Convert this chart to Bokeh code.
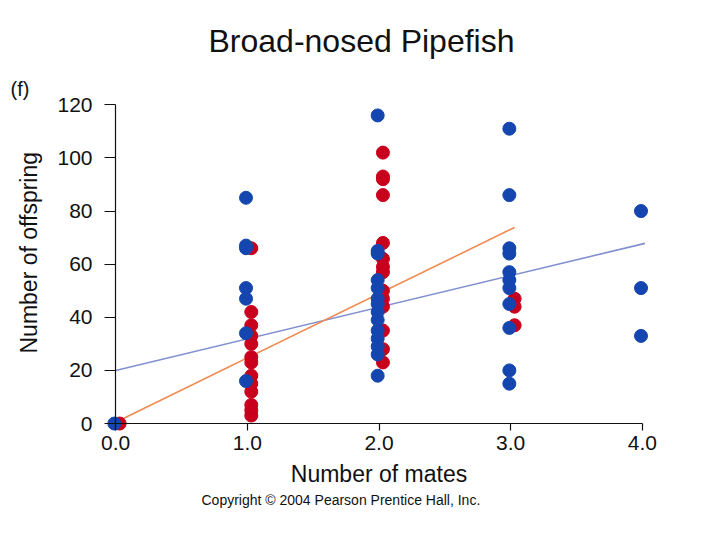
import numpy as np
from bokeh.plotting import figure
from bokeh.models import Range1d, NumeralTickFormatter, LinearAxis, Title
from bokeh.embed import file_html
from bokeh.resources import INLINE

# ---- data ----
blue_mates = [0,
              1, 1, 1, 1, 1, 1, 1,
              2, 2, 2, 2, 2, 2, 2, 2, 2, 2, 2, 2, 2, 2,
              3, 3, 3, 3, 3, 3, 3, 3, 3, 3, 3,
              4, 4, 4]
blue_offspring = [0,
                  85, 67, 66, 51, 47, 34, 16,
                  116, 65, 64, 54, 51, 47, 45, 42, 39, 35, 32, 29, 26, 18,
                  111, 86, 66, 64, 57, 54, 51, 45, 36, 20, 15,
                  80, 51, 33]
red_mates = [0,
             1, 1, 1, 1, 1, 1, 1, 1, 1, 1, 1, 1, 1,
             2, 2, 2, 2, 2, 2, 2, 2, 2, 2, 2, 2, 2, 2,
             3, 3, 3]
red_offspring = [0,
                 66, 42, 37, 33, 30, 25, 23, 18, 15, 12, 7, 5, 3,
                 102, 93, 92, 86, 68, 62, 59, 57, 50, 47, 44, 35, 28, 23,
                 47, 44, 37]
# fitted lines: intercept, slope, x-extent
blue_fit = (20.0, 11.9, 4.02)
red_fit = (0.5, 24.2, 3.03)

x_ticks = [0, 1, 2, 3, 4]
y_ticks = [0, 20, 40, 60, 80, 100, 120]

BLUE = "#1546B0"
RED = "#C8001E"
FONT = "Liberation Sans"
INK = "#111111"

p = figure(frame_width=553, frame_height=332,
           min_border_left=101, min_border_right=58,
           min_border_top=99, min_border_bottom=101,
           x_range=Range1d(-0.1, 4.1), y_range=Range1d(-3, 122),
           output_backend="svg", toolbar_location=None,
           x_axis_location=None, y_axis_location=None)
p.outline_line_color = None
p.xgrid.grid_line_color = None
p.ygrid.grid_line_color = None
p.background_fill_color = "white"
p.border_fill_color = "white"

# fit lines (drawn below points)
for (b0, b1, xe), col in [(blue_fit, "#8090D0"), (red_fit, "#F08A50")]:
    xs = np.array([0.0, xe])
    p.line(xs, b0 + b1 * xs, line_color=col, line_width=1.6)

p.scatter(np.array(red_mates) + 0.03, red_offspring, size=13,
          fill_color=RED, line_color=RED)
p.scatter(np.array(blue_mates) - 0.01, blue_offspring, size=13,
          fill_color=BLUE, line_color=BLUE)

# axis lines + ticks, placed at data zero (labels hidden)
xline = LinearAxis(ticker=x_ticks, fixed_location=0, bounds=(0, 4),
                   major_tick_out=7, major_tick_in=0)
yline = LinearAxis(ticker=y_ticks, fixed_location=0, bounds=(0, 120),
                   major_tick_out=11, major_tick_in=0)
for ax in (xline, yline):
    ax.axis_line_color = INK
    ax.axis_line_width = 1.2
    ax.major_tick_line_color = INK
    ax.major_tick_line_width = 1.2
    ax.minor_tick_line_color = None
    ax.major_label_text_color = None
p.add_layout(xline, "below")
p.add_layout(yline, "left")

# tick labels on frame-edge axes (no lines)
xlab = LinearAxis(ticker=x_ticks, formatter=NumeralTickFormatter(format="0.0"),
                  major_label_standoff=4, axis_label="Number of mates",
                  axis_label_standoff=8)
ylab = LinearAxis(ticker=y_ticks, major_label_standoff=10)
for ax in (xlab, ylab):
    ax.axis_line_color = None
    ax.major_tick_line_color = None
    ax.minor_tick_line_color = None
    ax.major_tick_out = 0
    ax.major_tick_in = 0
    ax.major_label_text_font = FONT
    ax.major_label_text_font_size = "21px"
    ax.major_label_text_color = INK
    ax.axis_label_text_font = FONT
    ax.axis_label_text_font_size = "23px"
    ax.axis_label_text_font_style = "normal"
    ax.axis_label_text_color = INK
p.add_layout(xlab, "below")
p.add_layout(ylab, "left")

# texts
p.add_layout(Title(text="(f)", align="left", offset=-92, standoff=0,
                   text_font=FONT, text_font_size="20px", text_font_style="normal",
                   text_color=INK), "above")
p.add_layout(Title(text="Broad-nosed Pipefish", align="left", offset=106, standoff=34,
                   text_font=FONT, text_font_size="32px", text_font_style="normal",
                   text_color=INK), "above")
p.add_layout(Title(text="Number of offspring", align="left", offset=78, standoff=26,
                   text_font=FONT, text_font_size="23px", text_font_style="normal",
                   text_color=INK), "left")
p.add_layout(Title(text="Copyright \u00a9 2004 Pearson Prentice Hall, Inc.", align="left",
                   offset=99, standoff=0,
                   text_font=FONT, text_font_size="14px", text_font_style="normal",
                   text_color=INK), "below")

open("out.html", "w").write(file_html(p, INLINE))
